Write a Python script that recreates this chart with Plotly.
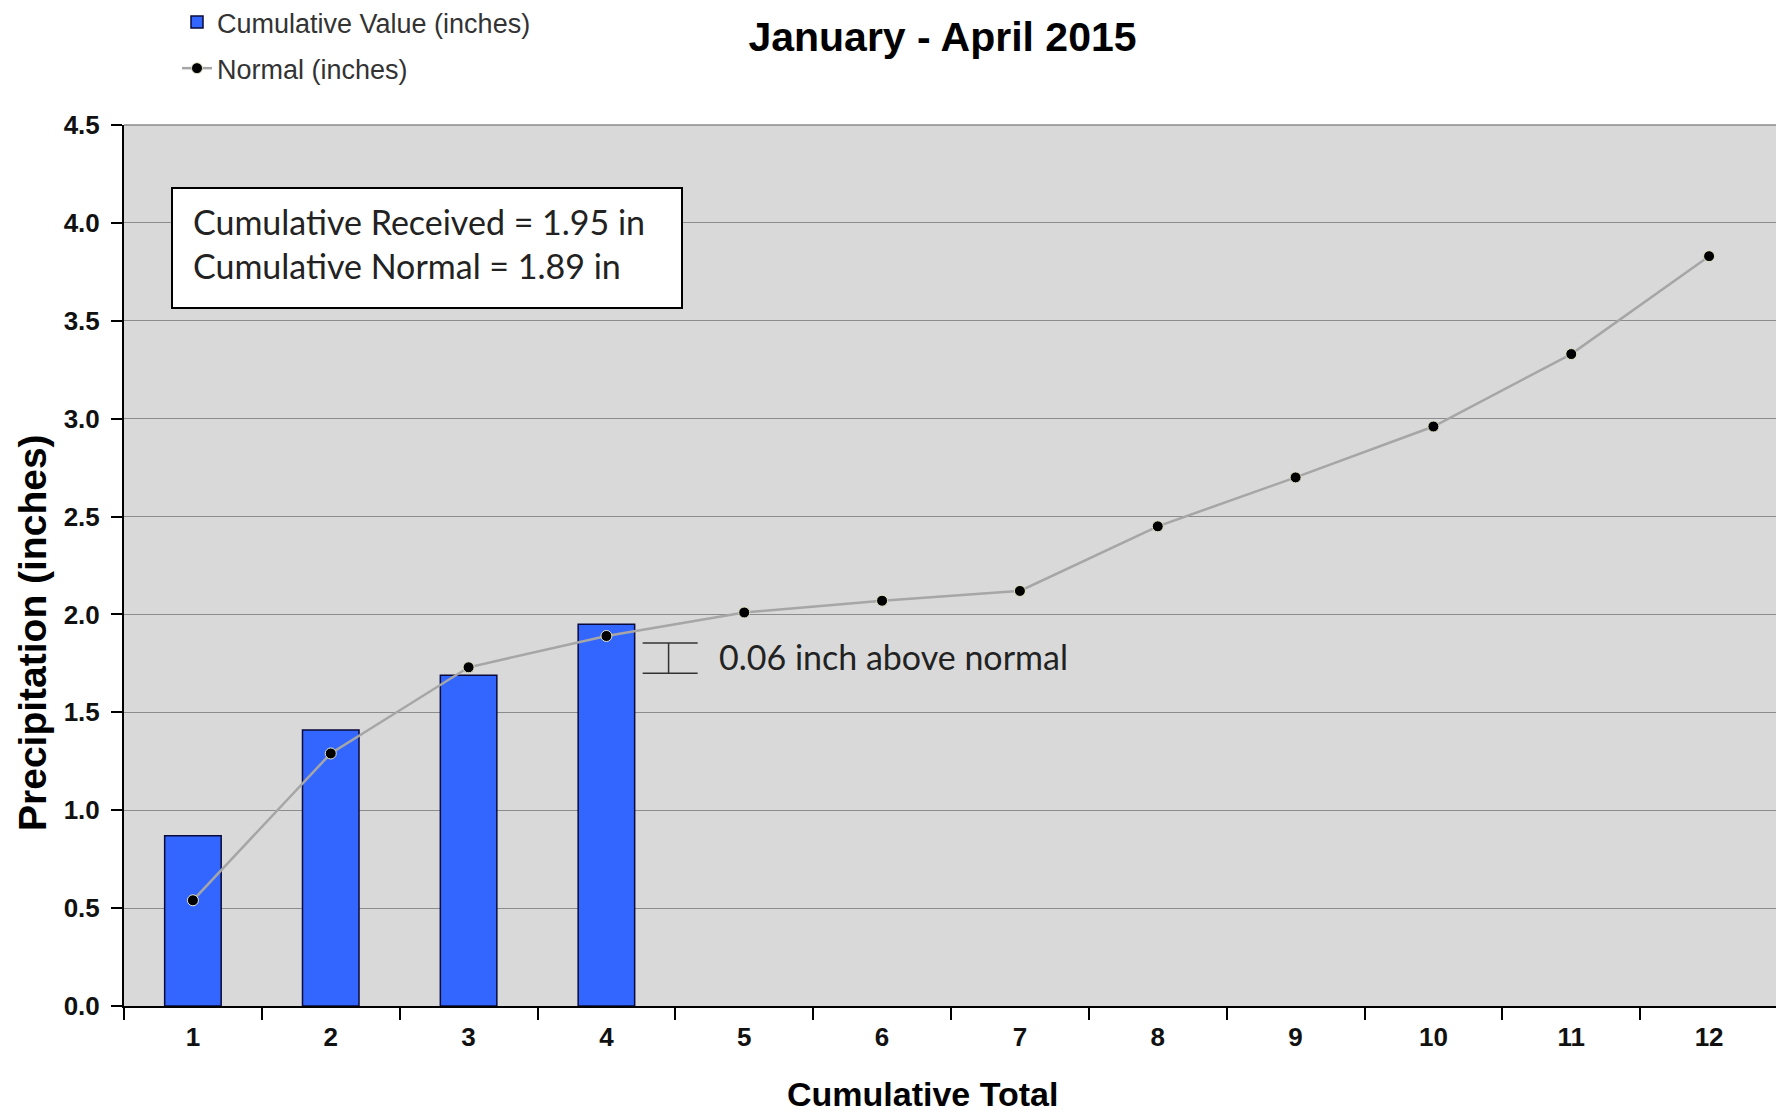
import plotly.graph_objects as go

categories = ["1", "2", "3", "4", "5", "6", "7", "8", "9", "10", "11", "12"]
cumulative_value = [0.87, 1.41, 1.69, 1.95]
normal_value = [0.54, 1.29, 1.73, 1.89, 2.01, 2.07, 2.12, 2.45, 2.70, 2.96, 3.33, 3.83]
y_ticks = [0.0, 0.5, 1.0, 1.5, 2.0, 2.5, 3.0, 3.5, 4.0, 4.5]

# page body has an 8px margin; figure sized to fit the window
OFF = 8
W, H = 1784 - OFF, 1114 - OFF
L, R, T, B = 116, 6, 117, 108
pw = W - L - R
ph = H - T - B


def px(xs):
    return (xs - OFF - L) / pw


def py(ys):
    return (H - B - (ys - OFF)) / ph


fig = go.Figure()
fig.add_trace(go.Bar(
    x=categories[:len(cumulative_value)], y=cumulative_value,
    name="Cumulative Value (inches)", width=0.41,
    marker=dict(color="#3366ff", line=dict(color="#0a0a3a", width=1.5)),
    legendgroup="a",
))
fig.add_trace(go.Scatter(
    x=categories, y=normal_value, mode="lines+markers",
    name="Normal (inches)",
    line=dict(color="#a6a6a6", width=2.5),
    marker=dict(color="black", size=11, line=dict(color="#e6e6c8", width=1)),
    legendgroup="b",
))

font_main = "Liberation Sans, Arial, sans-serif"
font_box = "Lato, Carlito, Calibri, sans-serif"

fig.update_layout(
    width=W, height=H,
    margin=dict(l=L, r=R, t=T, b=B, autoexpand=False),
    paper_bgcolor="white",
    plot_bgcolor="#d9d9d9",
    title=dict(text="<b>January - April 2015</b>", x=(942.5 - OFF) / W, xref="container",
               y=1 - (37 - OFF) / H, yref="container", xanchor="center", yanchor="middle",
               font=dict(family=font_main, size=41, color="black")),
    legend=dict(x=(177 - OFF - L) / pw, y=1 + (T + 10) / ph, xanchor="left", yanchor="top",
                xref="paper", yref="paper", bgcolor="rgba(0,0,0,0)",
                font=dict(family=font_main, size=27, color="#333333"),
                traceorder="grouped", tracegroupgap=8),
    showlegend=True,
)

fig.update_xaxes(
    type="category", tickson="boundaries", ticks="outside", ticklen=12, tickwidth=1.5,
    tickcolor="black", showline=True, linecolor="black", linewidth=2,
    showgrid=False, tickfont=dict(family=font_main, size=26, color="#111111", weight="bold"),
    ticklabelstandoff=7, automargin=False,
    range=[-0.5, 11.5],
)
fig.update_yaxes(
    range=[0, 4.5], tickvals=y_ticks, ticktext=[f"{v:.1f}" for v in y_ticks],
    ticks="outside", ticklen=11, tickwidth=1.5, tickcolor="black",
    showline=True, linecolor="black", linewidth=2,
    showgrid=True, gridcolor="#8c8c8c", gridwidth=1, zeroline=False,
    tickfont=dict(family=font_main, size=26, color="#111111", weight="bold"),
    ticklabelstandoff=6, automargin=False,
)

# top and right plot border
fig.add_shape(type="line", xref="paper", yref="paper", x0=0, x1=1, y0=1, y1=1,
              line=dict(color="#8a8a8a", width=1.5))
fig.add_shape(type="line", xref="paper", yref="paper", x0=1, x1=1, y0=0, y1=1,
              line=dict(color="#8a8a8a", width=1.5))

# axis titles
fig.add_annotation(text="<b>Precipitation (inches)</b>", xref="paper", yref="paper",
                   x=px(32), y=py(633), textangle=-90, showarrow=False,
                   xanchor="center", yanchor="middle",
                   font=dict(family=font_main, size=39, color="black"))
fig.add_annotation(text="<b>Cumulative Total</b>", xref="paper", yref="paper",
                   x=px(922), y=py(1094), showarrow=False,
                   xanchor="center", yanchor="middle",
                   font=dict(family=font_main, size=34, color="black"))

# info box
fig.add_shape(type="rect", xref="paper", yref="paper",
              x0=px(172), x1=px(682), y0=py(308), y1=py(188),
              fillcolor="white", line=dict(color="black", width=2), layer="above")
fig.add_annotation(text="Cumulative Received = 1.95 in<br>Cumulative Normal = 1.89 in",
                   xref="paper", yref="paper", x=px(191), y=py(244),
                   xanchor="left", yanchor="middle", showarrow=False, align="left",
                   font=dict(family=font_box, size=34, color="#222222"))

# bracket annotation
bx0, bx1, bxc = 3.263, 3.662, 3.451
by0, by1 = 1.699, 1.854
for (xa, xb, ya, yb) in [(bx0, bx1, by1, by1), (bx0, bx1, by0, by0), (bxc, bxc, by0, by1)]:
    fig.add_shape(type="line", xref="x", yref="y", x0=xa, x1=xb, y0=ya, y1=yb,
                  line=dict(color="#333333", width=1.5))
fig.add_annotation(text="0.06 inch above normal", xref="x", yref="y", x=3.80, y=1.783,
                   xanchor="left", yanchor="middle", showarrow=False,
                   font=dict(family=font_box, size=34, color="#222222"))

fig.write_html("out.html")
